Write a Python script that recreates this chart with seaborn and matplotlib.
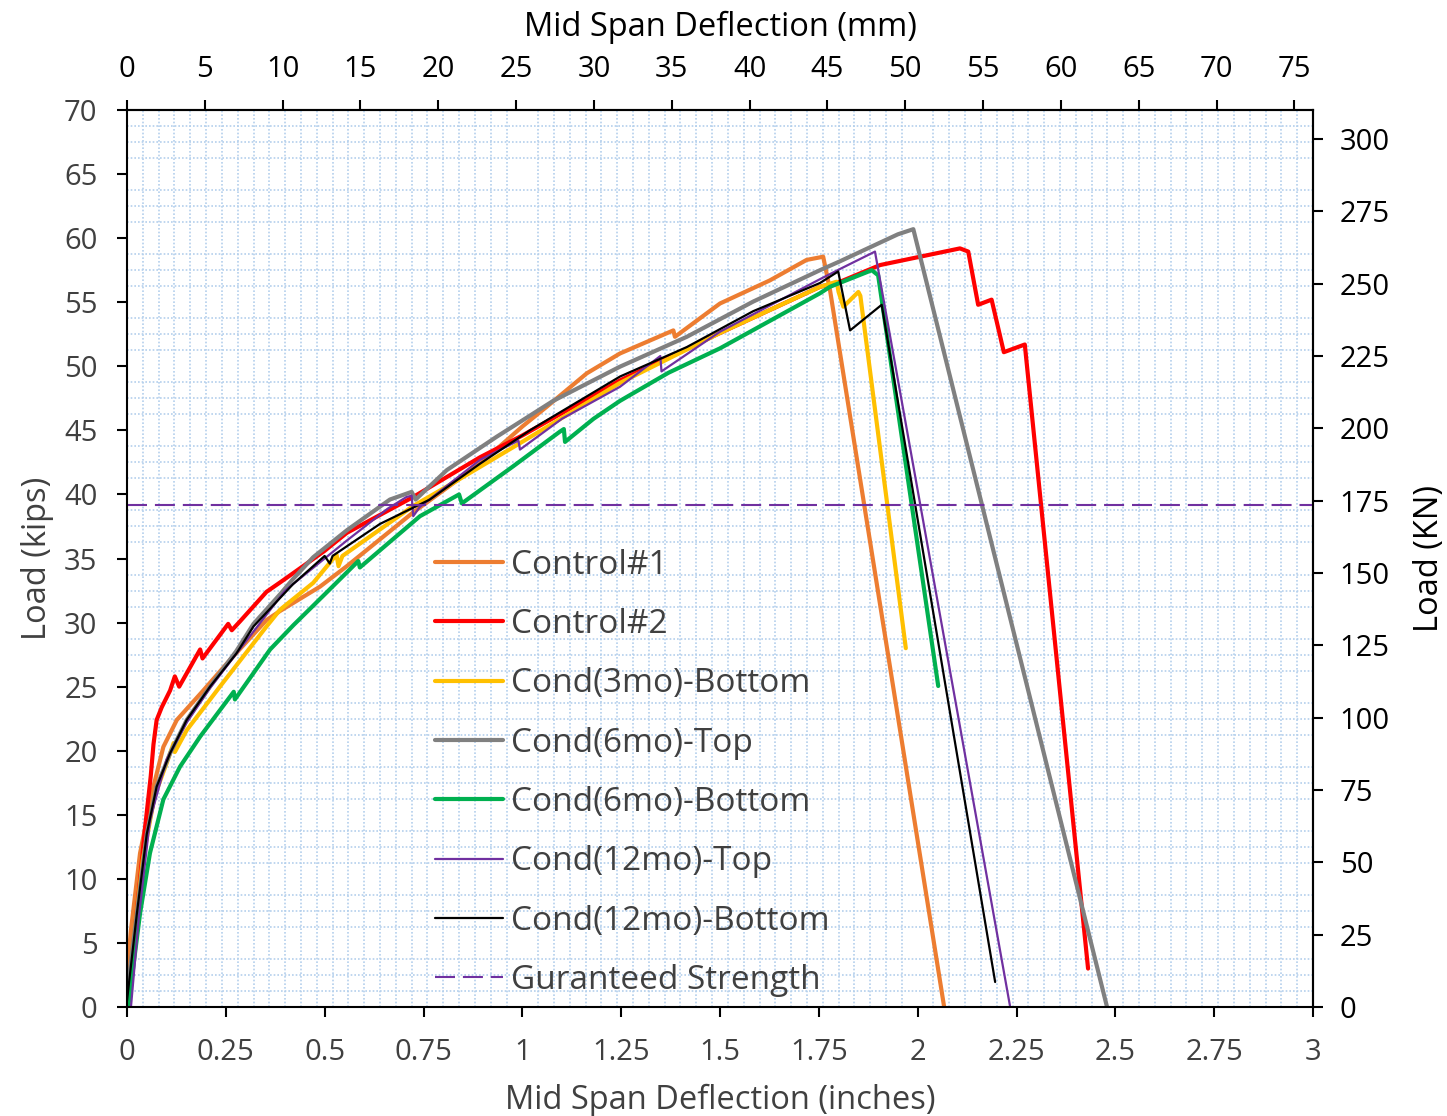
import numpy as np
import pandas as pd
import matplotlib
matplotlib.use("Agg")
import matplotlib.pyplot as plt
from matplotlib.ticker import MultipleLocator, FuncFormatter
import seaborn as sns

# ---------------- data (deflection in inches, load in kips) ----------------
c1_x = [0.0, 0.01, 0.033, 0.067, 0.092, 0.126, 0.193, 0.261, 0.353, 0.387, 0.488, 0.556, 0.724, 0.893,
        1.0, 1.062, 1.163, 1.247, 1.382, 1.386, 1.5, 1.626, 1.719, 1.761, 1.778, 2.067]
c1_y = [2.5, 6.0, 12.0, 17.2, 20.3, 22.4, 24.7, 27.1, 30.2, 30.9, 32.8, 34.4, 38.6, 42.4,
        45.3, 46.85, 49.45, 51.0, 52.8, 52.3, 54.9, 56.7, 58.3, 58.55, 56.0, 0.0]

c2_x = [0.0, 0.02, 0.033, 0.045, 0.06, 0.067, 0.075, 0.088, 0.109, 0.121, 0.132, 0.185, 0.191, 0.256, 0.265,
        0.286, 0.353, 0.395, 0.5, 0.556, 0.724, 0.893, 1.0, 1.247, 1.5, 1.753, 1.804, 1.905, 2.006,
        2.107, 2.128, 2.153, 2.187, 2.218, 2.271, 2.431]
c2_y = [0.5, 6.0, 9.9, 13.8, 18.0, 20.5, 22.4, 23.4, 24.7, 25.8, 25.0, 27.9, 27.2, 29.9, 29.4,
        30.1, 32.4, 33.3, 35.6, 37.0, 39.8, 42.9, 44.6, 48.9, 52.6, 56.2, 56.6, 57.9, 58.55,
        59.2, 58.95, 54.8, 55.2, 51.1, 51.7, 3.0]

b3_x = [0.0, 0.02, 0.04, 0.07, 0.1, 0.118, 0.121, 0.151, 0.235, 0.353, 0.387, 0.471, 0.53, 0.535,
        0.545, 0.724, 0.825, 0.994, 1.247, 1.5, 1.753, 1.795, 1.80, 1.812, 1.85, 1.855, 1.97]
b3_y = [0.5, 6.0, 11.5, 16.5, 19.0, 20.6, 19.9, 21.6, 25.0, 29.7, 31.0, 33.1, 35.3, 34.4,
        35.2, 39.1, 40.9, 44.0, 48.7, 52.6, 56.2, 56.6, 55.8, 54.65, 55.8, 55.5, 28.0]

t6_x = [0.0, 0.025, 0.05, 0.075, 0.109, 0.151, 0.21, 0.277, 0.32, 0.387, 0.42, 0.471, 0.556, 0.665,
        0.72, 0.73, 0.809, 0.935, 1.078, 1.247, 1.416, 1.584, 1.753, 1.804, 1.95, 1.989, 2.479]
t6_y = [1.0, 7.3, 13.5, 17.2, 19.8, 22.4, 25.0, 27.8, 29.9, 32.2, 33.4, 35.1, 37.2, 39.6,
        40.2, 39.6, 41.9, 44.5, 47.3, 49.97, 52.3, 55.05, 57.5, 58.2, 60.3, 60.7, 0.0]

b6_x = [0.003, 0.033, 0.058, 0.092, 0.134, 0.185, 0.27, 0.273, 0.362, 0.421, 0.5, 0.585, 0.589,
        0.741, 0.84, 0.847, 0.977, 1.095, 1.105, 1.108, 1.18, 1.247, 1.37, 1.5, 1.753, 1.778,
        1.884, 1.9, 2.052]
b6_y = [0.0, 7.3, 12.0, 16.2, 18.75, 21.1, 24.6, 24.0, 27.9, 29.8, 32.2, 34.8, 34.3,
        38.3, 40.0, 39.3, 42.2, 44.9, 45.1, 44.1, 45.9, 47.3, 49.5, 51.4, 55.7, 56.2,
        57.5, 57.1, 25.05]

t12_x = [0.01, 0.03, 0.058, 0.1, 0.151, 0.21, 0.3, 0.4, 0.556, 0.66, 0.707, 0.72, 0.724, 0.74,
         0.893, 0.99, 0.994, 1.1, 1.247, 1.349, 1.352, 1.5, 1.753, 1.804, 1.892, 2.234]
t12_y = [0.0, 7.0, 14.6, 19.3, 22.2, 24.9, 28.5, 32.5, 36.4, 38.9, 39.8, 39.9, 38.3, 39.0,
         42.7, 44.2, 43.5, 45.9, 48.4, 50.8, 49.6, 52.7, 56.8, 57.6, 58.95, 0.0]

b12_x = [0.0, 0.025, 0.05, 0.075, 0.109, 0.151, 0.21, 0.277, 0.32, 0.42, 0.5, 0.513, 0.52, 0.64,
         0.766, 0.893, 1.019, 1.247, 1.416, 1.584, 1.753, 1.799, 1.829, 1.909, 2.196]
b12_y = [0.5, 7.3, 13.5, 17.2, 19.8, 22.4, 25.0, 27.6, 29.7, 33.0, 35.2, 34.6, 35.2, 37.7,
         39.6, 42.4, 45.0, 49.2, 51.5, 54.3, 56.5, 57.4, 52.8, 54.8, 1.95]

series_names = ["Control#1", "Control#2", "Cond(3mo)-Bottom", "Cond(6mo)-Top",
                "Cond(6mo)-Bottom", "Cond(12mo)-Top", "Cond(12mo)-Bottom"]
series_x = [c1_x, c2_x, b3_x, t6_x, b6_x, t12_x, b12_x]
series_y = [c1_y, c2_y, b3_y, t6_y, b6_y, t12_y, b12_y]
series_colors = ["#ED7D31", "#FF0000", "#FFC000", "#808080", "#00B050", "#7030A0", "#000000"]
series_widths = [3.0, 3.0, 3.0, 3.0, 3.0, 1.6, 1.6]

guaranteed_label = "Guranteed Strength"
guaranteed_kips = 39.2
LEFT_MAX_KIPS = 70
RIGHT_MAX_KN = 310      # secondary axis top as drawn in the source chart
IN_TO_MM = 25.4
kn_factor = RIGHT_MAX_KN / LEFT_MAX_KIPS

# ---------------- build long table ----------------
frames = []
for name, xs, ys in zip(series_names, series_x, series_y):
    frames.append(pd.DataFrame({"x": xs, "y": ys, "series": name}))
df = pd.concat(frames, ignore_index=True)

# ---------------- figure ----------------
sns.set_theme(style="white")
plt.rcParams["font.family"] = ["Open Sans", "DejaVu Sans"]

W, H = 1447, 1116
fig = plt.figure(figsize=(W / 100, H / 100), dpi=100)
fig.patch.set_facecolor("white")
ax = fig.add_axes([127 / W, 1 - 1007 / H, 1186 / W, 897 / H])

grid_col = "#B4D0EC"
ax.set_xlim(0, 3)
ax.set_ylim(0, LEFT_MAX_KIPS)
ax.xaxis.set_major_locator(MultipleLocator(0.25))
ax.yaxis.set_major_locator(MultipleLocator(5))
ax.xaxis.set_minor_locator(MultipleLocator(0.04))
ax.yaxis.set_minor_locator(MultipleLocator(1.25))
ax.grid(False, which="major")
ax.grid(True, which="minor", color=grid_col, linestyle=(0, (1.0, 1.2)), linewidth=1.2)
ax.set_axisbelow(True)

for name, col, lw in zip(series_names, series_colors, series_widths):
    sub = df[df["series"] == name]
    sns.lineplot(data=sub, x="x", y="y", color=col, linewidth=lw, sort=False,
                 estimator=None, ax=ax, label=name)

ax.axhline(guaranteed_kips, color="#7030A0", linewidth=1.5, linestyle=(0, (9.6, 3.8)),
           label=guaranteed_label)

for sp in ax.spines.values():
    sp.set_color("black")
    sp.set_linewidth(1.5)
    sp.set_visible(True)

gray_txt = "#404040"
TICK_FS = 21
TITLE_FS = 23.5
ax.tick_params(axis="both", which="major", direction="out", length=7.2, width=1.5,
               color="black", labelsize=TICK_FS, labelcolor=gray_txt, pad=14,
               bottom=True, left=True, top=False, right=False)
ax.tick_params(axis="x", which="major", pad=15)
ax.tick_params(axis="both", which="minor", length=0)


def fmt_in(v, pos):
    return ("%.2f" % v).rstrip("0").rstrip(".")


ax.xaxis.set_major_formatter(FuncFormatter(fmt_in))

ax.set_xlabel("Mid Span Deflection (inches)", fontsize=TITLE_FS, color=gray_txt, labelpad=12)
ax.set_ylabel("Load (kips)", fontsize=TITLE_FS, color=gray_txt, labelpad=7)

secx = ax.secondary_xaxis("top", functions=(lambda v: v * IN_TO_MM, lambda v: v / IN_TO_MM))
secx.set_xticks(np.arange(0, 80, 5))
secx.tick_params(direction="out", length=7.2, width=1.5, color="black", labelsize=TICK_FS,
                 labelcolor="black", pad=11.5)
secx.set_xlabel("Mid Span Deflection (mm)", fontsize=TITLE_FS, color="black", labelpad=14)
secx.spines["top"].set_linewidth(1.5)

secy = ax.secondary_yaxis("right", functions=(lambda v: v * kn_factor, lambda v: v / kn_factor))
secy.set_yticks(np.arange(0, 301, 25))
secy.tick_params(direction="out", length=7.2, width=1.5, color="black", labelsize=TICK_FS,
                 labelcolor="black", pad=12)
secy.set_ylabel("Load (KN)", fontsize=TITLE_FS, color="black", labelpad=17)
secy.spines["right"].set_linewidth(1.5)

handles, labels = ax.get_legend_handles_labels()
leg = ax.legend(handles, labels, loc="upper left", bbox_to_anchor=((435 - 127) / 1186, 0.511),
                frameon=False, fontsize=24, handlelength=2.04, handletextpad=0.24,
                labelspacing=0.79, borderpad=0, borderaxespad=0)
for t in leg.get_texts():
    t.set_color(gray_txt)

fig.savefig("out.png", dpi=100, facecolor="white")
